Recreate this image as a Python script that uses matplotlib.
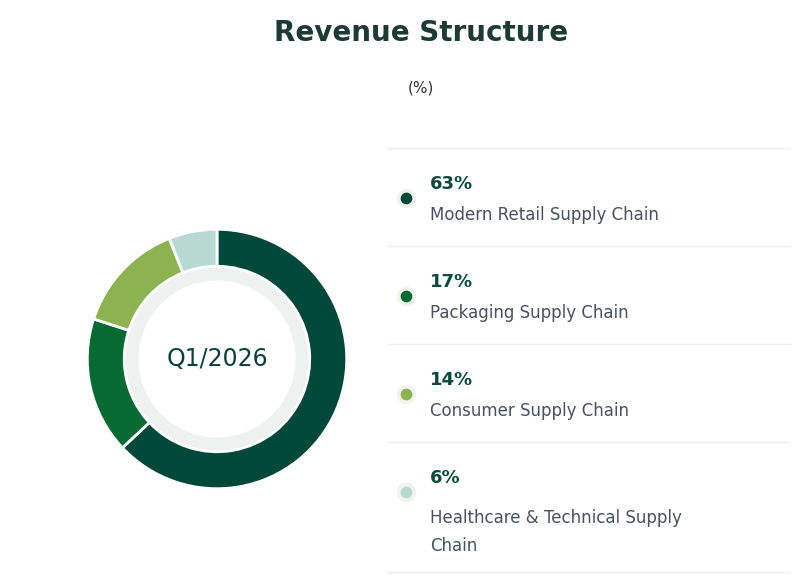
import matplotlib.pyplot as plt
from matplotlib.patches import Circle

segments = ['Modern Retail Supply Chain', 'Packaging Supply Chain',
            'Consumer Supply Chain', 'Healthcare & Technical Supply\nChain']
shares = [63, 17, 14, 6]
colors = ['#00493a', '#066b33', '#8bb34f', '#b6dad0']
period = 'Q1/2026'

W, H = 800, 582
fig = plt.figure(figsize=(8, 5.82), dpi=100)
fig.patch.set_facecolor('white')

def fx(x):
    return x / W

def fy(y):
    return 1 - y / H

fig.text(fx(421), fy(33), 'Revenue Structure', ha='center', va='center',
         fontsize=20, fontweight='semibold', color='#1d3a33', family='Montserrat' if False else 'DejaVu Sans')
fig.text(fx(421), fy(88), '(%)', ha='center', va='center', fontsize=11, color='#333333')

# donut
ax = fig.add_axes([fx(86), fy(490), 262 / W, 262 / H])
ax.pie(shares, colors=colors, startangle=90, counterclock=False,
       wedgeprops=dict(width=0.285, edgecolor='white', linewidth=2))
ax.add_patch(Circle((0, 0), 0.715, color='#eef1f0', zorder=0))
ax.add_patch(Circle((0, 0), 0.6, color='white', zorder=1))
ax.text(0, 0, period, ha='center', va='center', fontsize=17, color='#0d3f3a', zorder=2)
ax.set_xlim(-1.01, 1.01)
ax.set_ylim(-1.01, 1.01)
ax.set_aspect('equal')
ax.axis('off')

# legend list
lax = fig.add_axes([0, 0, 1, 1])
lax.set_xlim(0, W)
lax.set_ylim(H, 0)
lax.axis('off')
row_h = 98
for ypos in [148, 246, 344, 442, 572]:
    lax.plot([388, 790], [ypos, ypos], color='#eeeeee', lw=1)
for i, (name, val, c) in enumerate(zip(segments, shares, colors)):
    y0 = 148 + i * row_h
    lax.scatter([406], [y0 + 50], s=170, color='#f0f3ee', zorder=2)
    lax.scatter([406], [y0 + 50], s=55, color=c, zorder=3)
    lax.text(430, y0 + 36, f'{val}%', fontsize=13, fontweight='bold',
             color='#0b4a3a', va='center')
    lax.text(430, y0 + 67, name, fontsize=12, color='#4a5060', va='top' if '\n' in name else 'center',
             linespacing=1.7)
fig.savefig('out.png', dpi=100, facecolor='white')
